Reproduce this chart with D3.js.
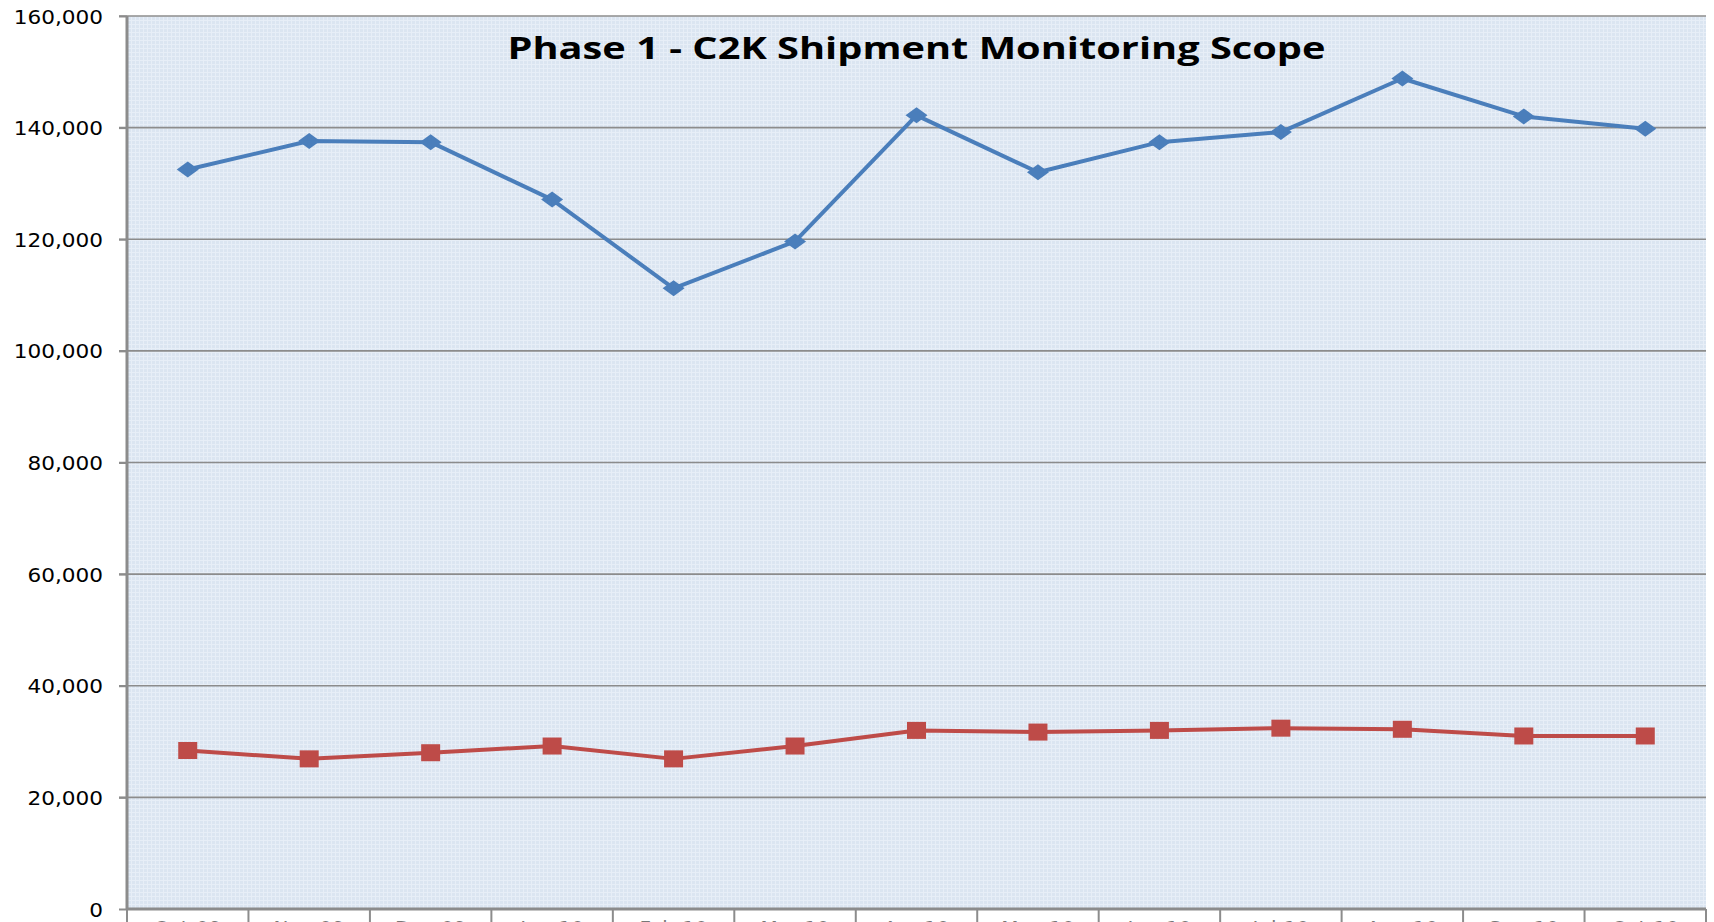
<!DOCTYPE html>
<html>
<head>
<meta charset="utf-8">
<title>Phase 1 - C2K Shipment Monitoring Scope</title>
<script src="https://d3js.org/d3.v7.min.js"></script>
<style>
  html, body { margin: 0; padding: 0; background: #fff; overflow: hidden; }
  svg { display: block; }
</style>
</head>
<body>
<div id="chart"></div>
<script>
// month labels (mostly cut off at the bottom of the picture)
var months = ["Oct-09", "Nov-09", "Dec-09", "Jan-10", "Feb-10", "Mar-10", "Apr-10",
              "May-10", "Jun-10", "Jul-10", "Aug-10", "Sep-10", "Oct-10"];
var scope = [132500, 137600, 137400, 127100, 111200, 119600, 142200,
             132000, 137400, 139200, 148800, 142000, 139800];
var monitored = [28400, 26900, 28000, 29200, 26900, 29200, 32000,
                 31700, 32000, 32400, 32200, 31000, 31000];
var yTicks = [0, 20000, 40000, 60000, 80000, 100000, 120000, 140000, 160000];

var W = 1714, H = 922;
var margin = {top: 16, right: 8, bottom: 13, left: 127};
var width = W - margin.left - margin.right,
    height = H - margin.top - margin.bottom;

var svg = d3.select("#chart").append("svg")
    .attr("width", W)
    .attr("height", H);

// fine grid texture in the plot area
var defs = svg.append("defs");
var pat = defs.append("pattern")
    .attr("id", "tex")
    .attr("width", 4).attr("height", 4)
    .attr("patternUnits", "userSpaceOnUse");
pat.append("rect").attr("width", 4).attr("height", 4).attr("fill", "#dbe5f1");
pat.append("path").attr("d", "M0,0.5H4M0.5,0V4")
    .attr("stroke", "#e7eef7").attr("stroke-width", 1);

var g = svg.append("g")
    .attr("transform", "translate(" + margin.left + "," + margin.top + ")");

var x = d3.scaleBand().domain(months).range([0, width]);
var y = d3.scaleLinear().domain([0, 160000]).range([height, 0]);

g.append("rect")
    .attr("width", width)
    .attr("height", height)
    .attr("fill", "url(#tex)");

// horizontal gridlines
g.selectAll(".grid")
    .data(yTicks.filter(function(d) { return d > 0; }))
    .enter().append("line")
    .attr("x1", -8).attr("x2", width)
    .attr("y1", function(d) { return y(d); })
    .attr("y2", function(d) { return y(d); })
    .attr("stroke", "#8c8c8c")
    .attr("stroke-width", 1.6);

// y axis
var yAxis = g.append("g")
    .call(d3.axisLeft(y).tickValues(yTicks).tickSize(8).tickFormat(d3.format(",")));
yAxis.select(".domain").remove();
yAxis.selectAll(".tick line").attr("stroke", "#8c8c8c").attr("stroke-width", 2);
yAxis.selectAll(".tick text").remove();
yAxis.selectAll(".tick").append("text")
    .attr("transform", "translate(-24,7) scale(1.08,1)")
    .attr("text-anchor", "end")
    .style("font-family", "Verdana, 'DejaVu Sans', sans-serif")
    .style("font-size", "20px")
    .attr("fill", "#000")
    .text(function(d) { return d3.format(",")(d); });

// x axis (labels run off the bottom edge as in the source)
var xAxis = g.append("g")
    .attr("transform", "translate(0," + height + ")")
    .call(d3.axisBottom(x).tickSize(0));
xAxis.select(".domain").remove();
xAxis.selectAll(".tick text")
    .attr("y", 12)
    .attr("dy", "0.71em")
    .style("font-family", "Verdana, 'DejaVu Sans', sans-serif")
    .style("font-size", "20px")
    .attr("fill", "#777");
g.selectAll(".xtick")
    .data(d3.range(months.length + 1))
    .enter().append("line")
    .attr("x1", function(i) { return i * x.step(); })
    .attr("x2", function(i) { return i * x.step(); })
    .attr("y1", height).attr("y2", height + 20)
    .attr("stroke", "#8c8c8c").attr("stroke-width", 2);

g.append("line")
    .attr("x1", 0).attr("x2", width)
    .attr("y1", height).attr("y2", height)
    .attr("stroke", "#8c8c8c").attr("stroke-width", 3);
g.append("line")
    .attr("x1", 0).attr("x2", 0)
    .attr("y1", 0).attr("y2", height)
    .attr("stroke", "#8c8c8c").attr("stroke-width", 3);

var cx = function(d, i) { return x(months[i]) + x.bandwidth() / 2; };

function drawLine(data, color) {
    g.append("path")
        .datum(data)
        .attr("fill", "none")
        .attr("stroke", color)
        .attr("stroke-width", 4)
        .attr("stroke-linejoin", "round")
        .attr("d", d3.line().x(cx).y(function(d) { return y(d); }));
}

drawLine(scope, "#4a7ebb");
g.selectAll(".dia")
    .data(scope)
    .enter().append("path")
    .attr("transform", function(d, i) { return "translate(" + cx(d, i) + "," + y(d) + ")"; })
    .attr("d", "M-11,0L0,-8L11,0L0,8Z")
    .attr("fill", "#4a7ebb");

drawLine(monitored, "#be4b48");
g.selectAll(".sq")
    .data(monitored)
    .enter().append("rect")
    .attr("x", function(d, i) { return cx(d, i) - 9.5; })
    .attr("y", function(d) { return y(d) - 8.5; })
    .attr("width", 19).attr("height", 17)
    .attr("fill", "#be4b48");

// title
g.append("text")
    .attr("x", width / 2)
    .attr("y", 59 - margin.top)
    .attr("text-anchor", "middle")
    .attr("textLength", 818)
    .attr("lengthAdjust", "spacingAndGlyphs")
    .style("font-family", "'Open Sans', sans-serif")
    .style("font-weight", "bold")
    .style("font-size", "31px")
    .attr("fill", "#000")
    .text("Phase 1 - C2K Shipment Monitoring Scope");
</script>
</body>
</html>
